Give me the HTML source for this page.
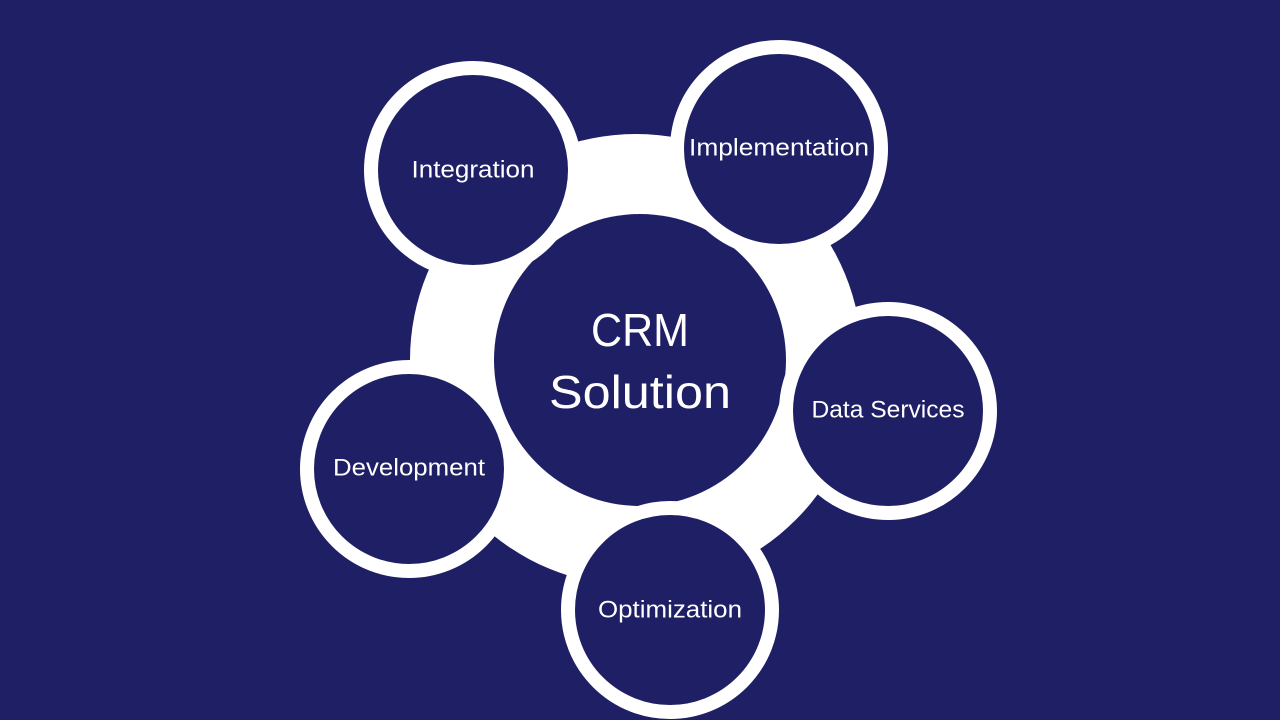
<!DOCTYPE html>
<html><head><meta charset="utf-8"><style>
html,body{margin:0;padding:0;background:#1f1f66;}
svg{display:block}
text{font-family:"Liberation Sans",sans-serif;fill:#fff;text-anchor:middle;dominant-baseline:central}
</style></head><body>
<svg width="1280" height="720" viewBox="0 0 1280 720">
<rect width="1280" height="720" fill="#1f1f66"/>
<circle cx="636" cy="360" r="226" fill="#fff"/>
<circle cx="640" cy="360" r="146" fill="#1f1f66"/>
<g fill="#1f1f66" stroke="#fff" stroke-width="14">
<circle cx="473" cy="170" r="102"/>
<circle cx="779" cy="149" r="102"/>
<circle cx="888" cy="411" r="102"/>
<circle cx="409" cy="469" r="102"/>
<circle cx="670" cy="610" r="102"/>
</g>
<text x="640" y="330" font-size="46" textLength="98" lengthAdjust="spacingAndGlyphs">CRM</text>
<text x="640" y="392" font-size="46" textLength="182" lengthAdjust="spacingAndGlyphs">Solution</text>
<text x="473" y="170" font-size="24" textLength="123" lengthAdjust="spacingAndGlyphs">Integration</text>
<text x="779" y="148" font-size="24" textLength="180" lengthAdjust="spacingAndGlyphs">Implementation</text>
<text x="888" y="410" font-size="24" textLength="153" lengthAdjust="spacingAndGlyphs">Data Services</text>
<text x="409" y="468" font-size="24" textLength="152" lengthAdjust="spacingAndGlyphs">Development</text>
<text x="670" y="610" font-size="24" textLength="144" lengthAdjust="spacingAndGlyphs">Optimization</text>
</svg>
</body></html>
